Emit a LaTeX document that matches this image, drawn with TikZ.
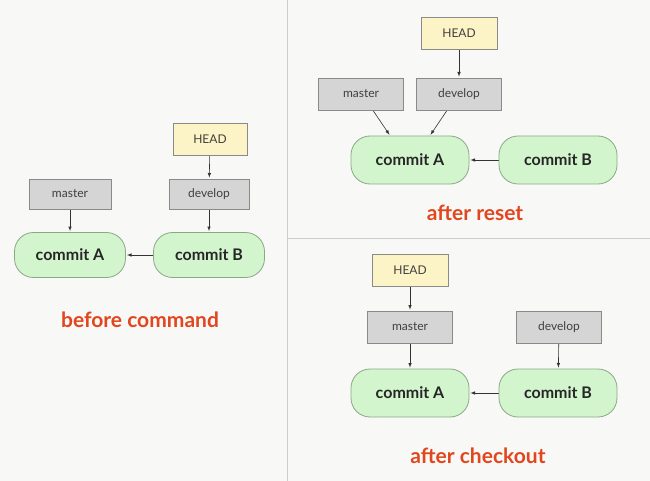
\documentclass[tikz,border=0pt]{standalone}
\usepackage{fontspec}
\setmainfont{Lato}
\usepackage{tikz}
\usetikzlibrary{arrows}
\pgfdeclarelayer{bglayer}
\pgfdeclarelayer{edgelayer}
\pgfdeclarelayer{nodelayer}
\pgfsetlayers{bglayer,edgelayer,nodelayer,main}
\definecolor{bgcol}{HTML}{F8F8F6}
\definecolor{commitfill}{HTML}{D3F5CD}
\definecolor{commitline}{HTML}{8BA886}
\definecolor{branchfill}{HTML}{D5D5D5}
\definecolor{branchline}{HTML}{8A8A8A}
\definecolor{headfill}{HTML}{FCF3C6}
\definecolor{capcol}{HTML}{E2461E}
\tikzstyle{none}=[inner sep=0pt]
\tikzstyle{commit_node}=[rectangle,rounded corners=19pt,fill=commitfill,draw=commitline,line width=0.8pt,minimum width=118pt,minimum height=48pt,font=\fontsize{16}{18}\selectfont\bfseries,text=black!85]
\tikzstyle{branch_node}=[rectangle,fill=branchfill,draw=branchline,line width=0.8pt,minimum width=85pt,minimum height=32pt,font=\fontsize{12}{14}\selectfont,text=black!75]
\tikzstyle{head_node}=[branch_node,fill=headfill,minimum width=76pt]
\tikzstyle{caption}=[inner sep=0pt,text=capcol,font=\fontsize{21}{24}\selectfont\bfseries]
\tikzstyle{pointer}=[-latex,draw=black!80,line width=0.6pt,shorten >=1pt]
\tikzstyle{divider}=[draw=black!20,line width=1pt]

\begin{document}
\begin{tikzpicture}[x=1pt,y=-1pt]
	\begin{pgfonlayer}{bglayer}
		\fill [bgcol] (0,0) rectangle (650,481);
	\end{pgfonlayer}
	\useasboundingbox (0,0) rectangle (650,481);
	\begin{pgfonlayer}{nodelayer}
		% before command
		\node [style={head_node},minimum width=74pt] (0) at (210, 139) {HEAD};
		\node [style={branch_node},minimum width=80pt,minimum height=30pt] (1) at (209, 194) {develop};
		\node [style={branch_node},minimum width=82pt,minimum height=30pt] (2) at (70, 194) {master};
		\node [style={commit_node},minimum width=111pt,minimum height=45pt] (3) at (70, 255) {commit A};
		\node [style={commit_node},minimum width=111pt,minimum height=45pt] (4) at (209, 255) {commit B};
		\node [style=caption] (5) at (140, 320) {before command};
		% after reset
		\node [style={head_node}] (6) at (459, 33) {HEAD};
		\node [style={branch_node}] (7) at (361, 94) {master};
		\node [style={branch_node}] (8) at (459, 94) {develop};
		\node [style={commit_node}] (9) at (410, 160) {commit A};
		\node [style={commit_node}] (10) at (558, 160) {commit B};
		\node [style=caption] (11) at (475, 213) {after reset};
		% after checkout
		\node [style={head_node}] (12) at (410, 270) {HEAD};
		\node [style={branch_node}] (13) at (410, 327) {master};
		\node [style={branch_node}] (14) at (559, 327) {develop};
		\node [style={commit_node}] (15) at (410, 393) {commit A};
		\node [style={commit_node}] (16) at (558, 393) {commit B};
		\node [style=caption] (17) at (478, 456) {after checkout};
		% panel borders
		\coordinate (18) at (287, 0);
		\coordinate (19) at (287, 481);
		\coordinate (20) at (287, 238);
		\coordinate (21) at (650, 238);
	\end{pgfonlayer}
	\begin{pgfonlayer}{edgelayer}
		\draw [style=divider] (18) to (19);
		\draw [style=divider] (20) to (21);
		\draw [style=pointer] (0) to (1);
		\draw [style=pointer] (1) to (4);
		\draw [style=pointer] (2) to (3);
		\draw [style=pointer] (4) to (3);
		\draw [style=pointer] (6) to (8);
		\draw [style=pointer] (7.south -| 373,0) to (9.north -| 390,0);
		\draw [style=pointer] (8.south -| 447,0) to (9.north -| 430,0);
		\draw [style=pointer] (10) to (9);
		\draw [style=pointer] (12) to (13);
		\draw [style=pointer] (13) to (15);
		\draw [style=pointer] (14) to (16);
		\draw [style=pointer] (16) to (15);
	\end{pgfonlayer}
\end{tikzpicture}
\end{document}
